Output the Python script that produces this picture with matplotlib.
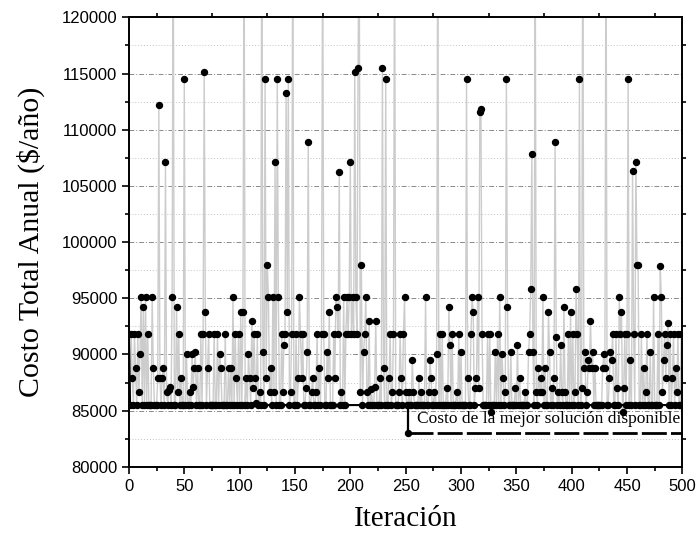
import numpy as np
import matplotlib
matplotlib.use('Agg')
import matplotlib.pyplot as plt
from matplotlib.ticker import MultipleLocator

# total annual cost at each iteration (values above 120000 fall off the top of the chart)
costs = [
    91800, 85500, 91800, 87900, 85500, 91800, 88800, 85500, 91800, 86700, 90000, 95100, 85500, 94200, 85500, 95100, 85500, 91800, 85500, 85500, 85500, 95100, 88800, 85500, 85500,
    85500, 87900, 112200, 87900, 85500, 87900, 88800, 85500, 107100, 86700, 85500, 86800, 87100, 85500, 95100, 130000, 85500, 85500, 94200, 86700, 91800, 85500, 87900, 85500, 85500,
    114500, 85500, 90000, 85500, 85500, 86700, 85500, 90000, 87100, 88800, 90200, 85500, 88800, 85500, 85500, 91800, 85500, 91800, 115100, 93800, 85500, 88800, 91800, 85500, 85500,
    85500, 85500, 91800, 85500, 85500, 91800, 85500, 90000, 88800, 85500, 85500, 85500, 91800, 85500, 85500, 88800, 85500, 88800, 85500, 95100, 85500, 91800, 87900, 85500, 91800,
    85500, 93800, 85500, 93800, 130000, 85500, 87900, 85500, 90000, 87900, 85500, 93000, 87000, 91800, 87900, 85700, 91800, 85500, 86700, 85500, 130000, 90200, 85500, 114500, 87900,
    98000, 95100, 86700, 88800, 85500, 95100, 86700, 107100, 85500, 114500, 95100, 85500, 85500, 91800, 86700, 90800, 91800, 113300, 93800, 114500, 85500, 86700, 91800, 130000, 85500,
    85500, 91800, 85500, 87900, 95100, 91800, 87900, 91800, 85500, 85500, 87000, 90200, 108900, 85500, 85500, 86700, 87900, 85500, 85500, 86700, 91800, 85500, 88800, 85500, 91800,
    130000, 91800, 85500, 85500, 90200, 87900, 93800, 85500, 85500, 85500, 91800, 87900, 95100, 94200, 91800, 106200, 85500, 86700, 85500, 95100, 85500, 91800, 95100, 91800, 95100,
    107100, 91800, 95100, 91800, 115100, 95100, 91800, 115500, 130000, 86700, 98000, 85500, 90200, 91800, 95100, 86700, 85500, 93000, 85500, 86900, 85500, 85500, 87100, 93000, 85500,
    85500, 85500, 87900, 85500, 115500, 88800, 85500, 114500, 85500, 85500, 87900, 91800, 85500, 86700, 91800, 130000, 85500, 85500, 85500, 86700, 91800, 87900, 85500, 91800, 95100,
    86700, 85500, 85500, 86700, 85500, 85500, 89500, 86700, 85500, 85500, 85500, 85500, 87900, 85500, 86700, 85500, 85500, 85500, 95100, 85500, 85500, 86700, 89500, 87900, 85500,
    85500, 86700, 85500, 90000, 130000, 85500, 91800, 85500, 91800, 85500, 85500, 85500, 87000, 85500, 94200, 90800, 85500, 91800, 85500, 85500, 85500, 86700, 85500, 91800, 85500,
    90200, 85500, 85500, 85500, 85500, 114500, 87900, 85500, 85500, 91800, 95100, 93800, 85500, 87000, 87900, 95100, 87000, 111600, 111800, 91800, 85500, 85500, 85500, 85500, 91800,
    85500, 91800, 84900, 85500, 85500, 85500, 90200, 85500, 91800, 85500, 95100, 85500, 90000, 87900, 85500, 86700, 114500, 94200, 85500, 85500, 90200, 85500, 85500, 85500, 87000,
    85500, 90800, 85500, 87900, 85500, 85500, 85500, 85500, 86700, 85500, 85500, 90200, 91800, 95800, 107800, 90200, 85500, 130000, 86700, 85500, 88800, 86700, 87900, 86700, 95100,
    85500, 88800, 85500, 85500, 93800, 90200, 85500, 87000, 85500, 87900, 108900, 91600, 85500, 86700, 85500, 90800, 86700, 85500, 94200, 86700, 85500, 85500, 91800, 85500, 93800,
    85500, 91800, 85500, 86700, 95800, 91800, 85500, 114500, 85500, 87000, 130000, 88800, 90200, 85500, 86700, 89500, 88800, 93000, 88800, 90200, 85500, 88800, 85500, 85500, 85500,
    85500, 85500, 85500, 88800, 90000, 88800, 130000, 85500, 85500, 87900, 90200, 89500, 91800, 85500, 85500, 91800, 87000, 85500, 95100, 91800, 93800, 84900, 87000, 91800, 85500,
    91800, 114500, 85500, 89500, 85500, 106300, 91800, 85500, 107100, 98000, 98000, 85500, 85500, 91800, 85500, 88800, 85500, 86700, 91800, 85500, 85500, 90200, 85500, 85500, 95100,
    85500, 85500, 85500, 91800, 85500, 97900, 95100, 86700, 89500, 91800, 87900, 90800, 92800, 85500, 91800, 85500, 87900, 91800, 85500, 88800, 86700, 91800, 85500, 85500, 91800,
]

best_cost = 85500      # costo de la mejor solución disponible
note_iter = 252        # where the annotation bracket starts
note_cost = 83000
note_text = 'Costo de la mejor solución disponible'

x_max = 500
y_min, y_max = 80000, 120000

iters = np.arange(len(costs))
costs = np.array(costs)
best_curve = np.maximum(np.minimum.accumulate(costs), best_cost)

serif = ['Liberation Serif', 'DejaVu Serif']
sans = ['Liberation Sans', 'DejaVu Sans']

fig = plt.figure(figsize=(6.97, 5.41), dpi=100)
ax = fig.add_axes([0.185, 0.137, 0.794, 0.831])

# grid: dash-dot on major, dotted on minor
ax.yaxis.grid(True, which='major', linestyle=(0, (5, 2, 1, 2)), color='#8a8a8a', linewidth=0.7)
ax.yaxis.grid(True, which='minor', linestyle=(0, (1, 2)), color='#c4c4c4', linewidth=0.7)
ax.set_axisbelow(True)

# every iteration, joined by thin gray lines
ax.plot(iters, costs, color='#cccccc', linewidth=1.0, zorder=2)
ax.plot(iters, costs, 'o', color='black', markersize=4.3, zorder=4)

# best-so-far curve
ax.plot(iters, best_curve, color='black', linewidth=1.5, zorder=3)

# annotation bracket
ax.plot([note_iter, note_iter], [best_cost, note_cost], color='black', linewidth=1.6, zorder=5)
ax.plot([note_iter], [note_cost], 'o', color='black', markersize=4.3, zorder=5)
ax.plot([note_iter, x_max], [note_cost, note_cost], color='black', linewidth=2.0,
        linestyle=(0, (9, 1.5)), zorder=5, clip_on=False)
ax.text(note_iter + 8, 84250, note_text, fontsize=12.5, family=serif, va='center', ha='left', zorder=6)

ax.set_xlim(0, x_max)
ax.set_ylim(y_min, y_max)
ax.xaxis.set_major_locator(MultipleLocator(50))
ax.xaxis.set_minor_locator(MultipleLocator(25))
ax.yaxis.set_major_locator(MultipleLocator(5000))
ax.yaxis.set_minor_locator(MultipleLocator(2500))
ax.ticklabel_format(useOffset=False, style='plain')

for s in ax.spines.values():
    s.set_linewidth(1.4)
ax.tick_params(which='both', direction='out', width=1.2)
ax.tick_params(which='major', length=5)
ax.tick_params(which='minor', length=3, right=True, top=True)
for lab in ax.get_xticklabels() + ax.get_yticklabels():
    lab.set_family(sans)
    lab.set_fontsize(12)

ax.set_xlabel('Iteración', fontsize=21, family=serif, labelpad=9)
ax.set_ylabel('Costo Total Anual ($/año)', fontsize=21.5, family=serif, labelpad=12)

fig.savefig('out.png', dpi=100)
